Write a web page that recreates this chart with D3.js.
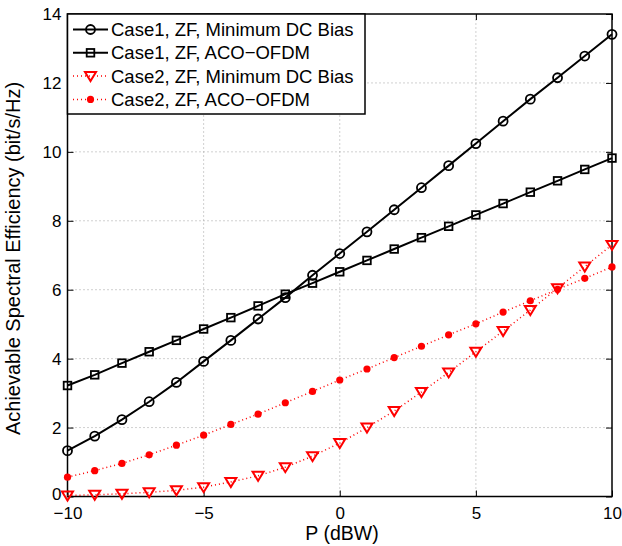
<!DOCTYPE html>
<html>
<head>
<meta charset="utf-8">
<script src="https://cdn.jsdelivr.net/npm/d3@7"></script>
<style>
body { margin: 0; background: #fff; }
svg { font-family: "Liberation Sans", Arial, sans-serif; }
</style>
</head>
<body>
<svg width="622" height="546"></svg>
<script>
// data
const power = [-10,-9,-8,-7,-6,-5,-4,-3,-2,-1,0,1,2,3,4,5,6,7,8,9,10]
const case1MinDC = [1.33,1.75,2.23,2.75,3.31,3.92,4.53,5.15,5.77,6.42,7.05,7.68,8.32,8.96,9.60,10.24,10.89,11.53,12.15,12.78,13.41]
const case1ACO = [3.22,3.53,3.87,4.20,4.53,4.86,5.19,5.53,5.87,6.19,6.52,6.85,7.18,7.51,7.84,8.17,8.50,8.83,9.16,9.49,9.82]
const case2MinDC = [0.03,0.05,0.08,0.12,0.18,0.27,0.42,0.60,0.85,1.17,1.55,2.00,2.48,3.03,3.60,4.20,4.80,5.41,6.04,6.67,7.30]
const case2ACO = [0.56,0.75,0.96,1.21,1.49,1.78,2.09,2.39,2.72,3.05,3.38,3.70,4.03,4.36,4.69,5.01,5.35,5.68,6.01,6.33,6.66]
const seriesNames = ["Case1, ZF, Minimum DC Bias","Case1, ZF, ACO\u2212OFDM","Case2, ZF, Minimum DC Bias","Case2, ZF, ACO\u2212OFDM"]
const xTicks = [-10,-5,0,5,10]
const yTicks = [0,2,4,6,8,10,12,14]

const svg = d3.select("svg")

const x = d3.scaleLinear().domain([-10, 10]).range([67.5, 612])
const y = d3.scaleLinear().domain([0, 14]).range([496.5, 14])

const fmt = d => d < 0 ? "\u2212" + Math.abs(d) : "" + d

// grid
const grid = svg.append("g").attr("class", "grid")
grid.selectAll("line.gx")
	.data(xTicks.slice(1, -1))
	.enter().append("line")
	.attr("x1", d => x(d)).attr("x2", d => x(d))
	.attr("y1", y(0)).attr("y2", y(14))
grid.selectAll("line.gy")
	.data(yTicks.slice(1, -1))
	.enter().append("line")
	.attr("x1", x(-10)).attr("x2", x(10))
	.attr("y1", d => y(d)).attr("y2", d => y(d))
grid.selectAll("line")
	.attr("stroke", "#a0a0a0")
	.attr("stroke-width", 1)
	.attr("stroke-dasharray", "1,3")

// axes, ticks inside
const axStyle = g => {
	g.select(".domain").remove()
	g.selectAll(".tick line").attr("stroke", "#000").attr("stroke-width", 1)
	g.selectAll("text").attr("font-size", 17).attr("fill", "#000")
}
svg.append("g")
	.attr("transform", `translate(0,${y(0)})`)
	.call(d3.axisBottom(x).tickValues(xTicks).tickFormat(fmt).tickSizeInner(-6).tickPadding(10))
	.call(axStyle)
svg.append("g")
	.attr("transform", `translate(0,${y(14)})`)
	.call(d3.axisTop(x).tickValues(xTicks).tickFormat("").tickSizeInner(-6))
	.call(axStyle)
const yAx = svg.append("g")
	.attr("transform", `translate(${x(-10)},0)`)
	.call(d3.axisLeft(y).tickValues(yTicks).tickSizeInner(-6).tickPadding(6))
	.call(axStyle)
// lift the bottom label a touch so it clears the -10 below it
yAx.selectAll(".tick text").filter(d => d == 0).attr("dy", "0.18em")
svg.append("g")
	.attr("transform", `translate(${x(10)},0)`)
	.call(d3.axisRight(y).tickValues(yTicks).tickFormat("").tickSizeInner(-6))
	.call(axStyle)

svg.append("rect")
	.attr("x", x(-10)).attr("y", y(14))
	.attr("width", x(10) - x(-10)).attr("height", y(0) - y(14))
	.attr("fill", "none").attr("stroke", "#000").attr("stroke-width", 1.5)

// labels
svg.append("text")
	.attr("x", 342).attr("y", 540)
	.attr("text-anchor", "middle").attr("font-size", 19.5)
	.text("P (dBW)")
svg.append("text")
	.attr("transform", `translate(20,258.5) rotate(-90)`)
	.attr("text-anchor", "middle").attr("font-size", 20)
	.text("Achievable Spectral Efficiency (bit/s/Hz)")

// series
const series = [
	{ vals: case1MinDC, color: "#000", dash: null, width: 2, marker: "circle" },
	{ vals: case1ACO, color: "#000", dash: null, width: 2, marker: "square" },
	{ vals: case2MinDC, color: "#ff0000", dash: "1,3", width: 1.5, marker: "tri" },
	{ vals: case2ACO, color: "#ff0000", dash: "1,3", width: 1.5, marker: "dot" }
]

const line = d3.line()
	.x((d, i) => x(power[i]))
	.y(d => y(d))

const drawMarker = (g, s, cx, cy) => {
	if (s.marker == "circle") {
		g.append("circle").attr("cx", cx).attr("cy", cy).attr("r", 4.5)
			.attr("fill", "none").attr("stroke", s.color).attr("stroke-width", 1.8)
	} else if (s.marker == "square") {
		g.append("rect").attr("x", cx - 3.8).attr("y", cy - 3.8).attr("width", 7.6).attr("height", 7.6)
			.attr("fill", "none").attr("stroke", s.color).attr("stroke-width", 1.8)
	} else if (s.marker == "tri") {
		g.append("path")
			.attr("d", `M${cx - 5.5},${cy - 4} L${cx + 5.5},${cy - 4} L${cx},${cy + 5} Z`)
			.attr("fill", "none").attr("stroke", s.color).attr("stroke-width", 2)
	} else {
		g.append("circle").attr("cx", cx).attr("cy", cy).attr("r", 3.6).attr("fill", s.color)
	}
}

series.forEach(s => {
	const g = svg.append("g")
	g.append("path")
		.attr("d", line(s.vals))
		.attr("fill", "none")
		.attr("stroke", s.color)
		.attr("stroke-width", s.width)
		.attr("stroke-dasharray", s.dash)
	s.vals.forEach((v, i) => drawMarker(g, s, x(power[i]), y(v)))
})

// legend
const leg = svg.append("g")
leg.append("rect")
	.attr("x", 67.5).attr("y", 14).attr("width", 297.5).attr("height", 100)
	.attr("fill", "#fff").attr("stroke", "#000").attr("stroke-width", 1.5)
series.forEach((s, i) => {
	const ly = 29.5 + i * 23.3
	leg.append("line")
		.attr("x1", 73).attr("x2", 108).attr("y1", ly).attr("y2", ly)
		.attr("stroke", s.color).attr("stroke-width", s.width)
		.attr("stroke-dasharray", s.dash)
	drawMarker(leg, s, 90.5, ly)
	leg.append("text")
		.attr("x", 111).attr("y", ly + 6.5)
		.attr("font-size", 18.5)
		.text(seriesNames[i])
})
</script>
</body>
</html>
